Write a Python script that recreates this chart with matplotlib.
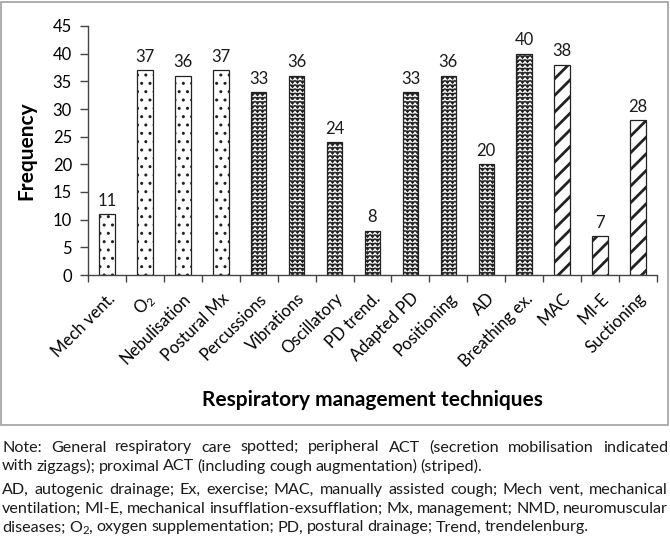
import warnings
import numpy as np
import matplotlib
matplotlib.use("Agg")
import matplotlib.pyplot as plt
import matplotlib.hatch as mhatch
from matplotlib.path import Path
from matplotlib.patches import Rectangle

warnings.filterwarnings("ignore")

# data
techniques = ["Mech vent.", "O$_2$", "Nebulisation", "Postural Mx", "Percussions",
              "Vibrations", "Oscillatory", "PD trend.", "Adapted PD", "Positioning",
              "AD", "Breathing ex.", "MAC", "MI-E", "Suctioning"]
frequency = [11, 37, 36, 37, 33, 36, 24, 8, 33, 36, 20, 40, 38, 7, 28]
group = ["general"] * 4 + ["peripheral"] * 8 + ["proximal"] * 3

note_lines = [
    "Note: General respiratory care spotted; peripheral ACT (secretion mobilisation indicated",
    "with zigzags); proximal ACT (including cough augmentation) (striped).",
]
abbrev_lines = [
    "AD, autogenic drainage; Ex, exercise; MAC, manually assisted cough; Mech vent, mechanical",
    "ventilation; MI-E, mechanical insufflation-exsufflation; Mx, management; NMD, neuromuscular",
    "diseases; O$_2$, oxygen supplementation; PD, postural drainage; Trend, trendelenburg.",
]


# zigzag hatch ('z'), not in matplotlib by default
class ZigZagHatch(mhatch.HatchPatternBase):
    def __init__(self, hatch, density):
        self.num_rows = int(hatch.count('z') * density)
        self.num_peaks = 20
        self.num_vertices = self.num_rows * (2 * self.num_peaks + 1)

    def set_vertices_and_codes(self, vertices, codes):
        npts = 2 * self.num_peaks + 1
        xs = np.linspace(0, 1, npts)
        step = 1.0 / self.num_rows
        amp = step * 0.7
        i = 0
        for r in range(self.num_rows):
            ys = r * step + np.where(np.arange(npts) % 2 == 0, amp, 0.0)
            vertices[i:i + npts, 0] = xs
            vertices[i:i + npts, 1] = ys
            codes[i] = Path.MOVETO
            codes[i + 1:i + npts] = Path.LINETO
            i += npts


mhatch._hatch_types.append(ZigZagHatch)

plt.rcParams['font.family'] = ['Lato', 'DejaVu Sans']
plt.rcParams['mathtext.fontset'] = 'custom'
plt.rcParams['mathtext.rm'] = 'Lato'
plt.rcParams['mathtext.it'] = 'Lato:italic'
plt.rcParams['mathtext.bf'] = 'Lato:bold'
plt.rcParams['text.color'] = '#1a1a1a'

W, H = 670, 541
fig = plt.figure(figsize=(W / 100, H / 100), dpi=100)
ax = fig.add_axes([88 / W, 1 - 275 / H, 569 / W, 249 / H])

hatches = {"general": "..", "peripheral": "zzzz", "proximal": "//"}
hatch_lw = {"general": 1.0, "peripheral": 0.8, "proximal": 2.0}
x = np.arange(len(techniques))
for g in ["general", "peripheral", "proximal"]:
    idx = [i for i, gg in enumerate(group) if gg == g]
    plt.rcParams['hatch.linewidth'] = hatch_lw[g]
    bars = ax.bar(x[idx], [frequency[i] for i in idx], width=0.41, color='white',
                  edgecolor='#222222', linewidth=0.9, hatch=hatches[g])
    for b in bars:
        if hasattr(b, 'set_hatch_linewidth'):
            b.set_hatch_linewidth(hatch_lw[g])
    ax.bar_label(bars, padding=4, fontsize=12, color='#1a1a1a')

ax.set_xlim(-0.5, len(techniques) - 0.5)
ax.set_ylim(0, 45)
ax.set_yticks(np.arange(0, 46, 5))
ax.set_xticks(x)
ax.set_xticklabels(techniques, rotation=45, ha='right', va='top',
                   rotation_mode='anchor', fontsize=12)
ax.set_xticks(np.arange(-0.5, len(techniques)), minor=True)
ax.tick_params(axis='x', which='major', length=0, pad=11)
ax.tick_params(axis='x', which='minor', length=5, width=1, color='#444444')
ax.tick_params(axis='y', length=5.5, width=1, color='#444444', pad=6, labelsize=12)
for s in ['top', 'right']:
    ax.spines[s].set_visible(False)
for s in ['left', 'bottom']:
    ax.spines[s].set_color('#444444')
    ax.spines[s].set_linewidth(1)

ax.set_ylabel("Frequency", fontsize=15, fontweight='bold', va='center')
ax.yaxis.set_label_coords(-0.109, 0.5)
ax.set_xlabel("Respiratory management techniques", fontsize=15, fontweight='bold', va='center')
ax.xaxis.set_label_coords(0.5, -0.502)

# grey frame round the chart
fig.patches.append(Rectangle((1 / W, 1 - 425 / H), 667 / W, 423 / H, transform=fig.transFigure,
                             fill=False, edgecolor='#a0a0a0', linewidth=1.2))

# justified notes
renderer = fig.canvas.get_renderer()
x0, x1 = 2, 668
space = 3.3  # px between words on the unjustified lines


def words_width(line, size):
    tot = 0
    for w in line.split(' '):
        t = fig.text(0, 0, w, fontsize=size)
        tot += t.get_window_extent(renderer).width
        t.remove()
    return tot


# size the notes so the widest line nearly fills the width with tight spaces
widest = abbrev_lines[1]
n_gaps = len(widest.split(' ')) - 1
note_size = 11 * (x1 - x0 - n_gaps * space) / words_width(widest, 11)


def put_line(line, y, justify):
    words = line.split(' ')
    texts = [fig.text(0, 1 - y / H, w, fontsize=note_size, va='baseline') for w in words]
    widths = [t.get_window_extent(renderer).width for t in texts]
    gap = (x1 - x0 - sum(widths)) / (len(words) - 1) if justify else space
    pos = x0
    for t, w in zip(texts, widths):
        t.set_x(pos / W)
        pos += w + gap


ys = [451.5, 470.5]
for i, line in enumerate(note_lines):
    put_line(line, ys[i], i < len(note_lines) - 1)
ys = [494, 513, 531.5]
for i, line in enumerate(abbrev_lines):
    put_line(line, ys[i], i < len(abbrev_lines) - 1)

fig.savefig("out.png", dpi=100)
